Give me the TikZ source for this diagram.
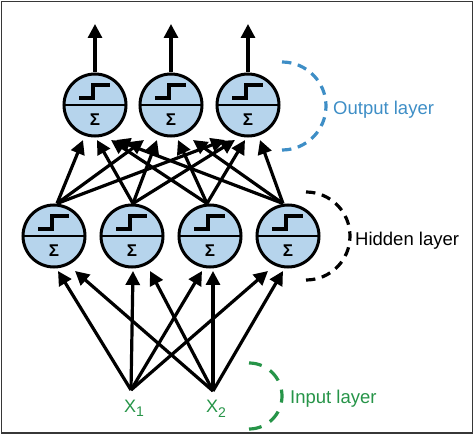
\documentclass[tikz,border=0pt]{standalone}
\usepackage{fontspec}
\setmainfont{Liberation Sans}
\usetikzlibrary{arrows.meta,calc}
\definecolor{neuronfill}{RGB}{182,212,236}
\definecolor{outblue}{RGB}{62,142,198}
\definecolor{ingreen}{RGB}{38,148,72}
\definecolor{framegray}{RGB}{55,55,55}
\begin{document}
\begin{tikzpicture}[x=1pt,y=-1pt,
  neuron/.style={circle,draw,line width=3pt,fill=neuronfill,minimum size=62pt,inner sep=0pt,
    path picture={
      \draw[line width=2.4pt] (path picture bounding box.west) -- (path picture bounding box.east);
      \draw[line width=3.2pt] ($(path picture bounding box.center)+(-16,-7)$) -- ++(14,0) -- ++(0,-13) -- ++(17,0);
      \node[inner sep=0pt] at ($(path picture bounding box.center)+(0,15)$) {\fontsize{17}{17}\selectfont\bfseries Σ};
    }},
  conn/.style={line width=3.2pt,-{Triangle[length=14pt,width=14pt]}},
  layertext/.style={anchor=base west,inner sep=0pt,font=\fontsize{18.5}{20}\selectfont},
  layerarc/.style={line width=3.2pt}
]
\useasboundingbox (0,0) rectangle (475,436);
\draw[framegray,line width=1.5pt] (1.5,1.5) rectangle (472.5,433);

% neurons
\node[neuron] (o1) at (95,105) {};
\node[neuron] (o2) at (171,105) {};
\node[neuron] (o3) at (248,105) {};
\node[neuron] (h1) at (54,236) {};
\node[neuron] (h2) at (132,236) {};
\node[neuron] (h3) at (210,236) {};
\node[neuron] (h4) at (288,236) {};

% inputs
\coordinate (x1) at (131,390);
\coordinate (x2) at (213,391);
\node[ingreen,anchor=base west,inner sep=0pt,font=\fontsize{18}{18}\selectfont] (lx1) at (124,412) {X\raisebox{-5pt}{\fontsize{14}{14}\selectfont 1}};
\node[ingreen,anchor=base west,inner sep=0pt,font=\fontsize{18}{18}\selectfont] (lx2) at (206,413) {X\raisebox{-5pt}{\fontsize{14}{14}\selectfont 2}};

% outputs
\coordinate (t1) at (95,24);
\coordinate (t2) at (171,24);
\coordinate (t3) at (248,24);
\draw[conn] (o1.north) -- (t1);
\draw[conn] (o2.north) -- (t2);
\draw[conn] (o3.north) -- (t3);

% input -> hidden
\draw[conn] (x1) -- ($(h1.center)+(4,35)$);
\draw[conn] (x2) -- ($(h1.center)+(21,35)$);
\draw[conn] (x1) -- ($(h2.center)+(1,35)$);
\draw[conn] (x2) -- ($(h2.center)+(18,35)$);
\draw[conn] (x1) -- ($(h3.center)+(-8,35)$);
\draw[conn] (x2) -- ($(h3.center)+(3,35)$);
\draw[conn] (x1) -- ($(h4.center)+(-20,35)$);
\draw[conn] (x2) -- ($(h4.center)+(-5,35)$);

% hidden -> output
\coordinate (s1) at ($(h1.north)+(3,0)$);
\coordinate (s2) at ($(h2.north)+(1,0)$);
\coordinate (s3) at ($(h3.north)+(-3,0)$);
\coordinate (s4) at ($(h4.north)+(-5,0)$);
\draw[conn] (s1) -- ($(o1.center)+(-12,35)$);
\draw[conn] (s2) -- ($(o1.center)+(2,35)$);
\draw[conn] (s3) -- ($(o1.center)+(16,35)$);
\draw[conn] (s4) -- ($(o1.center)+(21,35)$);
\draw[conn] (s1) -- ($(o2.center)+(-27,35)$);
\draw[conn] (s2) -- ($(o2.center)+(-14,35)$);
\draw[conn] (s3) -- ($(o2.center)+(7,35)$);
\draw[conn] (s4) -- ($(o2.center)+(22,35)$);
\draw[conn] (s1) -- ($(o3.center)+(-23,35)$);
\draw[conn] (s2) -- ($(o3.center)+(-13,35)$);
\draw[conn] (s3) -- ($(o3.center)+(-3,35)$);
\draw[conn] (s4) -- ($(o3.center)+(12,35)$);

% layer brackets
\draw[layerarc,outblue,dash pattern=on 9.4pt off 6.7pt] (282,62) arc[start angle=-90,end angle=90,radius=44];
\draw[layerarc,black,dash pattern=on 9.4pt off 6.7pt] (306,192) arc[start angle=-90,end angle=90,radius=44];
\draw[layerarc,ingreen,dash pattern=on 13pt off 9.7pt] (249,363) arc[start angle=-90,end angle=90,radius=33];

\node[layertext,outblue] (lo) at (333,115) {Output layer};
\node[layertext] (lh) at (355,246) {Hidden layer};
\node[layertext,ingreen] (li) at (290,403) {Input layer};
\end{tikzpicture}
\end{document}
